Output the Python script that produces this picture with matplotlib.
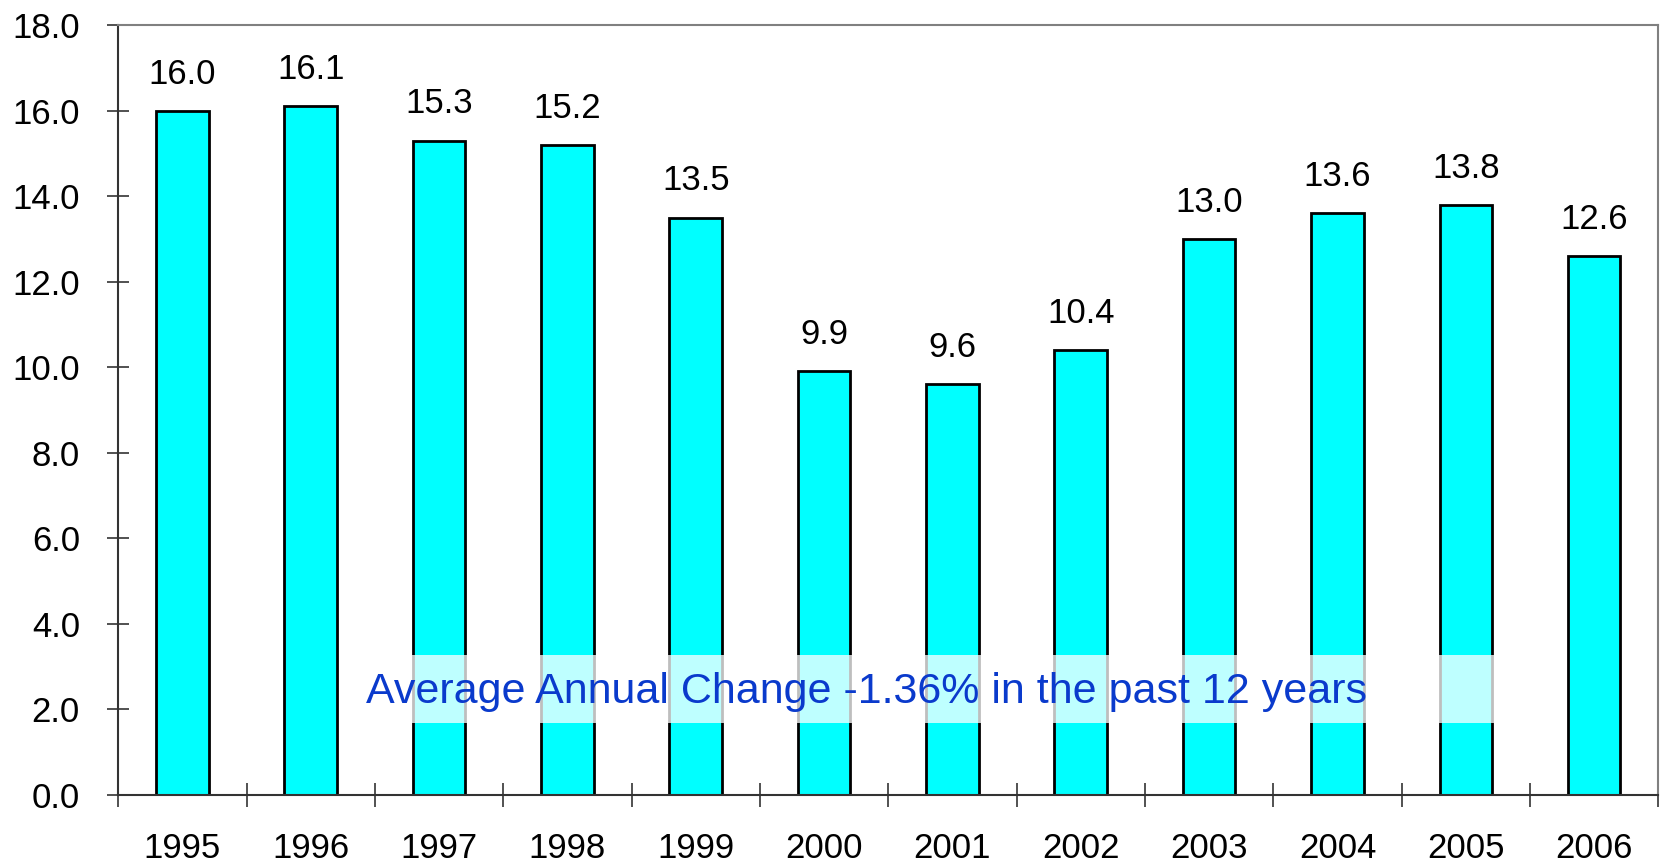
import numpy as np
import matplotlib
matplotlib.use("Agg")
import matplotlib.pyplot as plt
from matplotlib.patches import Rectangle

years = ['1995', '1996', '1997', '1998', '1999', '2000',
         '2001', '2002', '2003', '2004', '2005', '2006']
values = [16.0, 16.1, 15.3, 15.2, 13.5, 9.9, 9.6, 10.4, 13.0, 13.6, 13.8, 12.6]
note = "Average Annual Change -1.36% in the past 12 years"

plt.rcParams['font.family'] = ['Liberation Sans', 'DejaVu Sans']

fig = plt.figure(figsize=(16.6, 8.64), dpi=100)
ax = fig.add_axes([0.0712, 0.08, 0.9278, 0.891])

x = np.arange(len(years))
ax.bar(x, values, width=0.41, color='#00ffff', edgecolor='black', linewidth=2, zorder=2)

for xi, v in zip(x, values):
    ax.annotate(f"{v:.1f}", (xi, v), xytext=(0, 19.5), textcoords='offset points',
                ha='center', va='baseline', fontsize=25)

ax.set_xlim(-0.5, len(years) - 0.5)
ax.set_ylim(0, 18)
ax.set_yticks(np.arange(0, 18.1, 2))
ax.set_yticklabels([f"{t:.1f}" for t in np.arange(0, 18.1, 2)])
ax.set_xticks(x)
ax.set_xticklabels(years)
ax.set_xticks(np.arange(-0.5, len(years)), minor=True)

ax.tick_params(axis='y', direction='inout', length=16, width=1.2, pad=19.5,
               labelsize=25, color='#333333')
ax.tick_params(axis='x', which='major', length=0, pad=27, labelsize=25)
ax.tick_params(axis='x', which='minor', direction='inout', length=17, width=1.2,
               color='#333333')

for s in ['left', 'bottom']:
    ax.spines[s].set_color('#333333')
    ax.spines[s].set_linewidth(1.5)
for s in ['top', 'right']:
    ax.spines[s].set_color('#808080')
    ax.spines[s].set_linewidth(1.5)

# semi-transparent box behind the note
box = Rectangle((1.39, 1.68), 9.25, 1.6, facecolor='white', alpha=0.75,
                edgecolor='none', zorder=3)
ax.add_patch(box)
ax.text(5.33, 2.4, note, ha='center', va='center', fontsize=31,
        color='#0a3acc', zorder=4)

fig.savefig("out.png", dpi=100)
